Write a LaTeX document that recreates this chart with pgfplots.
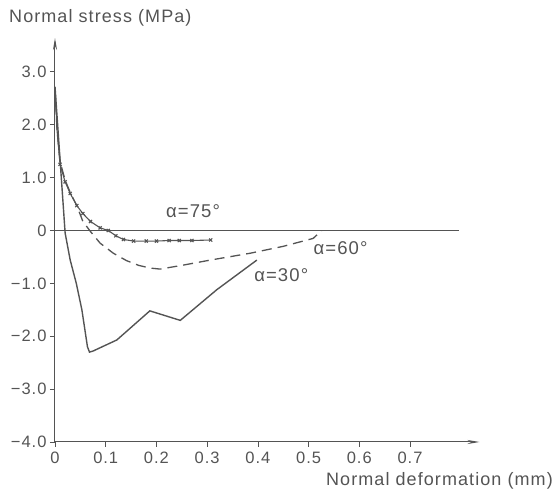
\documentclass[border=0pt]{standalone}
\usepackage{pgfplots}
\pgfplotsset{compat=1.18}
\usepackage{fontspec}
\setmainfont{Liberation Sans}[LetterSpace=6]
\usetikzlibrary{arrows.meta}
\definecolor{ink}{gray}{0.33}
\begin{document}
\begin{tikzpicture}
\useasboundingbox (-55pt,-48pt) rectangle (500pt,442pt);
\begin{axis}[
  at={(0pt,0pt)}, anchor=south west,
  scale only axis, width=424.5pt, height=404pt,
  xmin=0, xmax=0.837, ymin=-4, ymax=3.64,
  axis x line=bottom, axis y line=left,
  axis line style={ink, line width=1pt, -{Stealth[length=12pt,width=4pt]}},
  xtick={0,0.1,0.2,0.3,0.4,0.5,0.6,0.7},
  xticklabels={0,0.1,0.2,0.3,0.4,0.5,0.6,0.7},
  ytick={-4,-3,-2,-1,0,1,2,3},
  yticklabels={−4.0,−3.0,−2.0,−1.0,0,1.0,2.0,3.0},
  tick align=outside,
  major tick length=5pt,
  tick style={ink, line width=0.7pt},
  ticklabel style={font=\fontsize{16.5}{16.5}\selectfont, text=ink},
  xticklabel style={yshift=-1pt},
  /pgf/number format/assume math mode=true,
  clip=false,
]
% zero reference line
\addplot[ink, line width=1pt] coordinates {(0,0) (0.797,0)};
% alpha = 75
\addplot[ink, line width=1.1pt, mark=x, mark size=2.2pt, mark indices={3,...,19}] coordinates {
(0,2.7) (0.004,1.9) (0.01,1.25) (0.02,0.92) (0.03,0.7) (0.043,0.47) (0.055,0.32)
(0.07,0.17) (0.089,0.05) (0.105,0) (0.12,-0.1) (0.135,-0.17) (0.155,-0.2) (0.18,-0.2)
(0.2,-0.2) (0.225,-0.19) (0.245,-0.19) (0.27,-0.19) (0.307,-0.18)};
% alpha = 60
\addplot[ink, line width=1.3pt, dash pattern=on 10pt off 6pt] coordinates {
(0,2.7) (0.004,1.9) (0.01,1.3) (0.02,0.95) (0.03,0.72) (0.043,0.47) (0.055,0.17)
(0.07,-0.02) (0.089,-0.24) (0.115,-0.43) (0.141,-0.57) (0.165,-0.66) (0.187,-0.71)
(0.207,-0.73) (0.25,-0.66) (0.306,-0.56) (0.385,-0.43) (0.45,-0.3) (0.509,-0.15) (0.526,0)};
% alpha = 30
\addplot[ink, line width=1.4pt] coordinates {
(0,2.72) (0.02,-0.05) (0.03,-0.56) (0.042,-1.0) (0.053,-1.5) (0.064,-2.2) (0.068,-2.3)
(0.075,-2.28) (0.122,-2.07) (0.187,-1.52) (0.247,-1.70) (0.319,-1.12) (0.398,-0.56)};
\node[anchor=west, text=ink, font=\fontsize{18.5}{18.5}\selectfont] at (axis cs:0.212,0.37) {α=75°};
\node[anchor=west, text=ink, font=\fontsize{18.5}{18.5}\selectfont] at (axis cs:0.503,-0.33) {α=60°};
\node[anchor=west, text=ink, font=\fontsize{18.5}{18.5}\selectfont] at (axis cs:0.386,-0.84) {α=30°};
\end{axis}
\node[anchor=west, text=ink, font=\fontsize{18}{18}\selectfont, inner sep=0pt] at (-46pt,424pt) {Normal stress (MPa)};
\node[anchor=east, text=ink, font=\fontsize{18}{18}\selectfont, inner sep=0pt] at (498pt,-39pt) {Normal deformation (mm)};
\end{tikzpicture}
\end{document}
